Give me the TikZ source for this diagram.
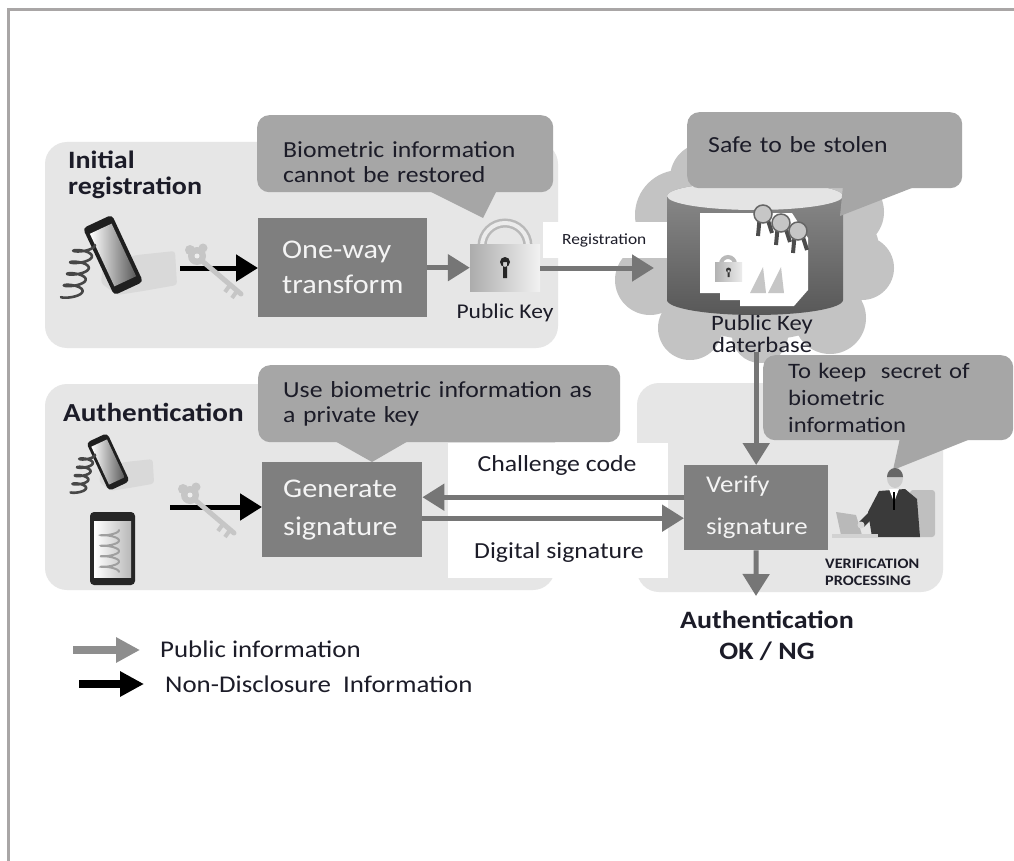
\documentclass[tikz,border=0pt]{standalone}
\usepackage{fontspec}
\setmainfont{Carlito}[FakeStretch=1.12]
\usetikzlibrary{arrows.meta}

\definecolor{framegray}{HTML}{A9A6A6}
\definecolor{panelgray}{HTML}{E6E6E6}
\definecolor{calloutgray}{HTML}{A6A6A6}
\definecolor{boxgray}{HTML}{7F7F7F}
\definecolor{arrowgray}{HTML}{767676}
\definecolor{legendgray}{HTML}{8E8E8E}
\definecolor{cloudgray}{HTML}{C3C3C3}
\definecolor{keygray}{HTML}{C6C6C6}
\definecolor{handgray}{HTML}{D9D9D9}
\definecolor{inkdark}{HTML}{1C1C28}
\definecolor{boxtext}{HTML}{F4F4F4}
\definecolor{suitdark}{HTML}{3A3A3A}
\definecolor{dbtop}{HTML}{8C8C8C}
\definecolor{dbbottom}{HTML}{585858}
\definecolor{dblid}{HTML}{E4E4E4}

% lets stacked lines sit closer than their glyph heights allow
\newcommand{\tightlead}{\lineskiplimit-50pt\relax}

\tikzset{
  keyicon/.pic={
    \draw[keygray, line width=5pt, line cap=round] (4,4) -- (44,38);
    \draw[keygray, line width=4pt] (33,29) -- (28,36) (40,35) -- (35,42);
    \fill[keygray] (0,0) circle (9) (-7,-6) circle (5) (6,-8) circle (4.5);
    \fill[white!70!keygray] (0,0) circle (2.5);
  },
  handphone/.pic={
    \fill[handgray, rounded corners=3pt] (-10,8) -- (24,0) -- (62,-4) -- (64,30) -- (30,36) -- (4,40) -- (-12,28) -- cycle;
    \begin{scope}[rotate=25]
      \fill[black!88, rounded corners=4pt] (-16,-37) rectangle (16,37);
      \shade[left color=white, right color=black!65] (-12,-29) rectangle (12,29);
    \end{scope}
    \draw[black!72, line width=2.6pt, line cap=round]
      plot[domain=0:1, samples=160, smooth, variable=\t]
      ({-28-14*\t+10*cos(1620*\t)}, {-10+52*\t+3*sin(1620*\t)});
  },
}

\begin{document}
\begin{tikzpicture}[x=1pt, y=-1pt,
  panel/.style={fill=panelgray, rounded corners=22pt},
  bubble/.style={fill=calloutgray, rounded corners=12pt, anchor=north west,
    inner ysep=0pt, align=left, text=inkdark, font=\fontsize{23}{25}\selectfont},
  bubbletail/.style={fill=calloutgray},
  procbox/.style={fill=boxgray, anchor=north west, inner ysep=0pt, align=left, text=boxtext},
  lbl/.style={text=inkdark, inner sep=0pt},
  pubarrow/.style={draw=arrowgray, line width=5pt, -{Triangle[length=22pt,width=26pt]}},
  secarrow/.style={draw=black, line width=5pt, -{Triangle[length=22pt,width=26pt]}},
  legendarrow/.style={line width=8pt, -{Triangle[length=24pt,width=24pt]}},
]
\useasboundingbox (0,0) rectangle (1014,861);
\fill[white] (0,0) rectangle (1014,861);
\draw[framegray, line width=3pt] (8,861) -- (8,10) -- (1014,10);

% background panels
\fill[panel] (45,142) rectangle (558,348);
\fill[panel] (45,384) rectangle (555,590);
\fill[panel] (637,383) rectangle (943,592);

% cloud behind the key database
\fill[cloudgray] (760,255) ellipse[x radius=120, y radius=85]
  (680,215) circle (45) (705,178) circle (35) (650,280) circle (35)
  (690,328) circle (32) (760,335) circle (28) (830,318) circle (36)
  (862,268) circle (32) (848,212) circle (36);

% white label areas
\node[fill=white, anchor=north west, minimum width=140pt, minimum height=36pt,
  inner xsep=19pt, text width=102pt, align=left, text=inkdark,
  font=\fontsize{15.5}{16}\selectfont] (reglabel) at (543,222) {Registration};
\fill[white] (448,443) rectangle (668,578);

% key database cylinder
\node[minimum width=176pt, minimum height=125pt, inner sep=0pt] (db) at (755,252.5) {};
\shade[top color=dbtop, bottom color=dbbottom] (667,196) -- (667,300)
  arc[start angle=180, end angle=0, x radius=88, y radius=15] -- (843,196)
  arc[start angle=0, end angle=-180, x radius=88, y radius=14] -- cycle;
\fill[dblid] (755,196) ellipse[x radius=88, y radius=14];
\fill[white] (700,213) -- (792,213) -- (808,238) -- (808,290) -- (794,306)
  -- (740,306) -- (740,300) -- (720,300) -- (720,293) -- (700,293) -- cycle;
\fill[gray!45] (750,293) -- (763,267) -- (766,293) -- cycle;
\fill[gray!45] (768,293) -- (781,267) -- (784,293) -- cycle;
\draw[gray!55, line width=4pt] (721,264) arc[start angle=180, end angle=360, radius=7];
\shade[left color=gray!60, right color=gray!15] (715,262) rectangle (742,281);
\fill[black!80] (728.5,270) circle (2.5) (727.5,270) rectangle (729.5,277);
\foreach \mx/\my in {763/214, 781/223, 798/231} {
  \draw[black!70, line width=4pt] ({\mx-3},{\my}) -- ({\mx-5},{\my+22})
    ({\mx+3},{\my}) -- ({\mx+9},{\my+19});
  \filldraw[fill=gray!45, draw=black!60, line width=1.5pt] (\mx,\my) circle (9);
}

% callouts
\node[bubble, minimum width=296pt, minimum height=77pt, inner xsep=26pt,
  text width=244pt, text depth=9pt] (tipreg) at (257,115)
  {Biometric information\\cannot be restored};
\fill[bubbletail] (427,190) -- (483,218) -- (497,190) -- cycle;
\node[bubble, minimum width=362pt, minimum height=77pt, inner xsep=25pt,
  text width=312pt] (tipauth) at (258,365)
  {Use biometric information as\\a private key};
\fill[bubbletail] (333,440) -- (372,462) -- (410,440) -- cycle;
\node[bubble, minimum width=275pt, minimum height=76pt, inner xsep=21pt,
  text width=233pt, text depth=11pt] (tipdb) at (687,112) {Safe to be stolen};
\fill[bubbletail] (843,186) -- (840,216) -- (917,186) -- cycle;
\node[bubble, minimum width=250pt, minimum height=85pt, inner xsep=25pt,
  text width=200pt, font=\fontsize{22}{27}\selectfont] (tipver) at (763,355)
  {To keep\ \ secret of\\biometric\\information};
\fill[bubbletail] (900,438) -- (893,470) -- (973,438) -- cycle;

% processing boxes
\node[procbox, minimum width=169pt, minimum height=99pt, inner xsep=24pt,
  text width=121pt, font=\fontsize{27}{35}\selectfont] (oneway) at (258,218)
  {One-way\\transform};
\node[procbox, minimum width=160pt, minimum height=95pt, inner xsep=21pt,
  text width=118pt, font=\fontsize{27}{38}\selectfont] (gen) at (262,462)
  {Generate\\signature};
\node[procbox, minimum width=144pt, minimum height=85pt, inner xsep=22pt,
  text width=100pt, font=\fontsize{24}{42}\selectfont] (verify) at (684,465)
  {Verify\\signature};

% public key padlock
\node[minimum width=70pt, minimum height=47pt, inner sep=0pt] (lock) at (505,268) {};
\draw[gray!55, line width=9pt] (482,246) arc[start angle=180, end angle=360, radius=23];
\draw[gray!15, line width=4pt] (482,246) arc[start angle=180, end angle=360, radius=23];
\shade[left color=gray!65, middle color=gray!20, right color=gray!10] (470,244.5) rectangle (540,291.5);
\fill[black!85] (505,262) circle (5) (503,262) rectangle (507,278);

% devices
\pic at (113,255) {handphone};
\pic[scale=0.72] at (108,462) {handphone};
\fill[black!85, rounded corners=4pt] (90,512) rectangle (135,585);
\shade[left color=white, right color=gray!55] (94,521) rectangle (131,577);
\draw[gray!75, line width=2pt, line cap=round]
  plot[domain=0:1, samples=120, smooth, variable=\t]
  ({110+9*cos(1440*\t)}, {530+42*\t+2*sin(1440*\t)});

% information flow
\draw[pubarrow] (oneway.east) -- (oneway.east -| lock.west);
\coordinate (dbin) at (654,268);
\draw[pubarrow] (lock.east) -- (dbin);
\coordinate (regkey) at (180,268);
\draw[secarrow] (regkey) -- (regkey -| oneway.west);
\coordinate (authkey) at (170,507);
\draw[secarrow] (authkey) -- (authkey -| gen.west);
\draw[pubarrow] ([yshift=10.5pt]verify.west) -- ([yshift=10.5pt]verify.west -| gen.east);
\draw[pubarrow] ([yshift=-8.5pt]gen.east) -- ([yshift=-8.5pt]gen.east -| verify.west);
\pic at (197,256) {keyicon};
\pic at (190,495) {keyicon};

% verifier at the desk
\fill[gray!50, rounded corners=3pt] (910,490) rectangle (935,537);
\fill[suitdark] (879,491) -- (905,489) -- (917,499) -- (920,537) -- (872,537) -- (868,512) -- cycle;
\fill[white] (889,489) -- (899,489) -- (894,502) -- cycle;
\draw[black, line width=1.5pt] (894,492) -- (894,510);
\fill[gray!40] (895,478) ellipse[x radius=8, y radius=10];
\fill[black!60] (887,477) arc[start angle=180, end angle=360, x radius=8, y radius=9] -- cycle;
\draw[suitdark, line width=7pt, line cap=round] (881,505) -- (862,524);
\fill[gray!55] (836,512) -- (856,515) -- (862,535) -- (841,535) -- cycle;
\fill[gray!35] (832,534) rectangle (878,538);
\fill[gray!30] (861,525) circle (3.5);

% labels (multi-line nodes are placed by the baseline of their last line)
\node[lbl, font=\bfseries\fontsize{25}{26}\selectfont,
  align=left, anchor=base west] (regtitle) at (68,195) {Initial\\registration};
\node[lbl, font=\bfseries\fontsize{26}{26}\selectfont, anchor=base west]
  (authtitle) at (63,421) {Authentication};
\node[lbl, font=\fontsize{21}{21}\selectfont, anchor=base] (pklabel) at (505,318) {Public Key};
\node[lbl, font=\fontsize{22}{22}\selectfont\tightlead, align=center,
  anchor=base] (dblabel) at (762,352) {Public Key\\daterbase};
\draw[pubarrow] (dblabel.south -| verify.north) -- (verify.north);
\node[lbl, font=\fontsize{23}{23}\selectfont, anchor=base] (chal) at (557,471) {Challenge code};
\node[lbl, font=\fontsize{23}{23}\selectfont, anchor=base] (dsig) at (559,558) {Digital signature};
\node[lbl, font=\bfseries\fontsize{14.5}{17}\selectfont, align=left, anchor=base west]
  (vlabel) at (825,585) {VERIFICATION\\PROCESSING};
\node[lbl, font=\bfseries\fontsize{25}{31}\selectfont, align=center, anchor=base]
  (result) at (767,659) {Authentication\\OK / NG};
\coordinate (verdict) at (756,596);
\draw[pubarrow] (verify.south) -- (verdict);

% legend
\coordinate (lgAa) at (73,650);
\coordinate (lgAb) at (140,650);
\draw[legendarrow, draw=legendgray] (lgAa) -- (lgAb);
\coordinate (lgBa) at (79,684);
\coordinate (lgBb) at (144,684);
\draw[legendarrow, draw=black] (lgBa) -- (lgBb);
\node[lbl, font=\fontsize{24}{24}\selectfont, anchor=base west] (lgA) at (160,657) {Public information};
\node[lbl, font=\fontsize{24}{24}\selectfont, anchor=base west] (lgB) at (165,692) {Non-Disclosure\ \ Information};
\end{tikzpicture}
\end{document}
